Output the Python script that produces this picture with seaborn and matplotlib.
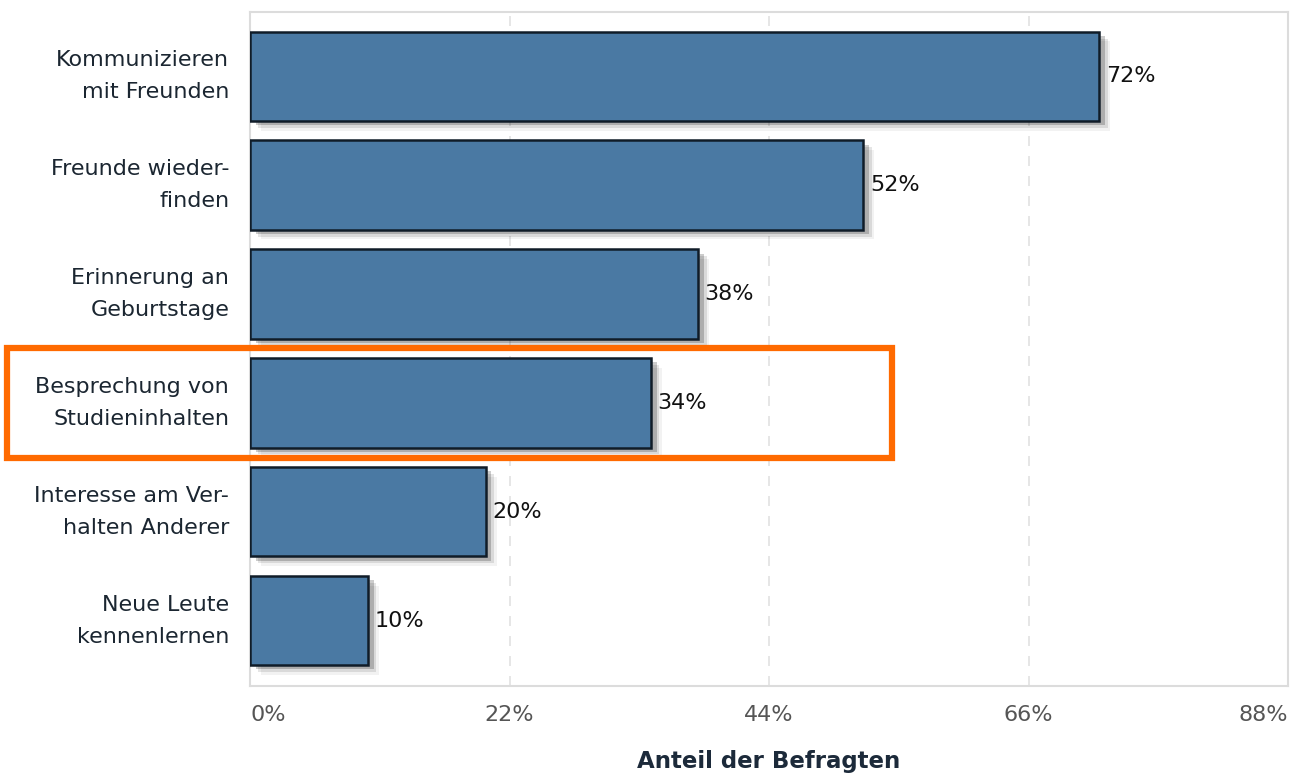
import matplotlib
matplotlib.use("Agg")
import matplotlib.pyplot as plt
import matplotlib.patheffects as pe
from matplotlib.patches import Rectangle
import seaborn as sns
import pandas as pd

categories = [
    "Kommunizieren\nmit Freunden",
    "Freunde wieder-\nfinden",
    "Erinnerung an\nGeburtstage",
    "Besprechung von\nStudieninhalten",
    "Interesse am Ver-\nhalten Anderer",
    "Neue Leute\nkennenlernen",
]
values = [72, 52, 38, 34, 20, 10]
xticks = [0, 22, 44, 66, 88]
xtick_labels = ["0%", "22%", "44%", "66%", "88%"]
highlight_index = 3

sns.set_theme(style="white")
plt.rcParams["font.family"] = ["DejaVu Sans"]

df = pd.DataFrame({"cat": categories, "val": values})

fig = plt.figure(figsize=(13.04, 7.79), dpi=100)
ax = fig.add_axes([250 / 1304, 1 - 686 / 779, 1038 / 1304, (686 - 12) / 779])

sns.barplot(data=df, x="val", y="cat", orient="h", color="#4a79a3",
            saturation=1, edgecolor="#101c28", linewidth=1.8, width=0.82, ax=ax)

shadow = [
    pe.SimplePatchShadow(offset=(8, -7), shadow_rgbFace="#000000", alpha=0.05),
    pe.SimplePatchShadow(offset=(6, -5), shadow_rgbFace="#000000", alpha=0.10),
    pe.SimplePatchShadow(offset=(4, -3), shadow_rgbFace="#000000", alpha=0.20),
    pe.Normal(),
]
for p in ax.patches:
    p.set_path_effects(shadow)
    p.set_zorder(3)

for i, v in enumerate(values):
    ax.text(v + 0.55, i, f"{v}%", va="center", ha="left", fontsize=16,
            color="#111111", zorder=5)

ax.set_xlim(0, 88)
ax.set_ylim(5.6, -0.59)
ax.set_xticks(xticks)
ax.set_xticklabels(xtick_labels, fontsize=16, color="#555555")
tl = ax.get_xticklabels()
tl[0].set_ha("left")
tl[-1].set_ha("right")
ax.set_yticks(range(len(categories)))
ax.set_yticklabels(categories, fontsize=16, color="#1b2631", linespacing=1.75,
                   ha="right", va="center")
ax.tick_params(axis="x", length=0, pad=14)
ax.tick_params(axis="y", length=0, pad=15)

ax.xaxis.grid(True, linestyle=(0, (6, 6)), color="#e2e2e2", linewidth=1.2, zorder=0)
ax.set_axisbelow(True)
for s in ax.spines.values():
    s.set_color("#dcdcdc")
    s.set_linewidth(1.5)

ax.set_ylabel("")
ax.set_xlabel("Anteil der Befragten", fontsize=16.5, fontweight="bold",
              color="#1c2a3a", labelpad=18)

rect = Rectangle((-20.6, highlight_index - 0.505), 75.0, 1.01, fill=False,
                 edgecolor="#ff6a00", linewidth=4.5, clip_on=False, zorder=6)
ax.add_patch(rect)

fig.savefig("out.png", dpi=100)
